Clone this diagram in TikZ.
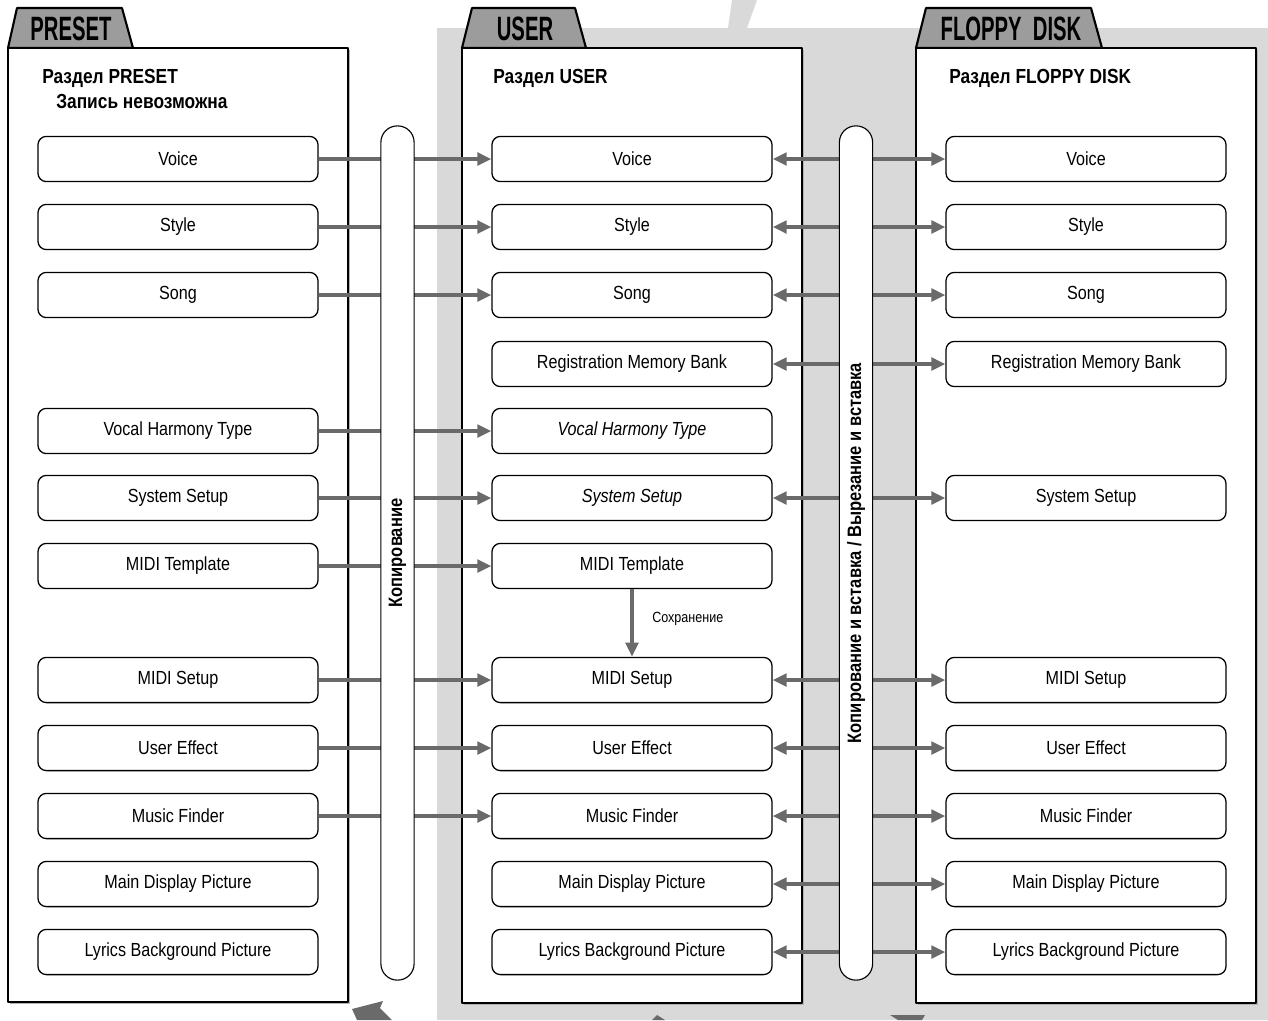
\documentclass[tikz,border=0pt]{standalone}
\usepackage{fontspec}
\setmainfont{Liberation Sans}[FakeStretch=0.85]
\newfontfamily\tabfont{Liberation Sans}[FakeStretch=0.6]
\usetikzlibrary{arrows.meta}

\definecolor{bglight}{HTML}{D9D9D9}
\definecolor{tabgray}{HTML}{9C9C9C}
\definecolor{arrgray}{HTML}{6A6A6A}

\tikzset{
	item/.style={draw, line width=0.9pt, rounded corners=6pt, fill=white, minimum width=7cm, minimum height=1.13cm, inner sep=0pt, font=\fontsize{13.5}{15}\selectfont},
	heading/.style={anchor=west, inner sep=0pt, font=\bfseries\fontsize{14.5}{16}\selectfont},
	tabtitle/.style={inner sep=0pt, font=\tabfont\bfseries\fontsize{24}{26}\selectfont},
	panel/.style={draw, line width=1.8pt, fill=white},
	tabshape/.style={draw, line width=1.5pt, fill=tabgray, line join=round},
	capsule/.style={draw, line width=0.8pt, fill=white, rotate=90, rounded corners=0.41cm, minimum width=21.35cm, minimum height=0.83cm, inner sep=0pt, font=\bfseries\fontsize{13.8}{15}\selectfont},
	onearrow/.style={draw=arrgray, line width=2.4pt, -{Triangle[length=10pt,width=9pt]}},
	twoarrow/.style={draw=arrgray, line width=2.4pt, {Triangle[length=10pt,width=9pt]}-{Triangle[length=10pt,width=9pt]}}
}

\begin{document}
\begin{tikzpicture}[x=0.025cm, y=-0.025cm, line join=round]
	\useasboundingbox (0,0) rectangle (1268,1020);
	
	% background
	\fill[bglight] (437,28) -- (728,28) -- (732,0) -- (757,0) -- (747,28) -- (1268,28) -- (1268,1020) -- (437,1020) -- cycle;
	\fill[arrgray] (352,1009) -- (383,1001) -- (380,1008) -- (392,1020) -- (357,1020) -- cycle;
	\fill[arrgray] (652,1020) -- (657,1015) -- (665,1020) -- cycle;
	\fill[arrgray] (890,1015) -- (925,1015) -- (922,1020) -- (898,1020) -- cycle;
	
	% panels
	\fill[gray!60] (10,50) rectangle (350,1004);
	\fill[gray!60] (464,50) rectangle (804,1005);
	\fill[gray!60] (918,50) rectangle (1258,1005);
	\draw[tabshape] (8,48) -- (17,8) -- (122,8) -- (133,48) -- cycle;
	\draw[tabshape] (462,48) -- (472,8) -- (575,8) -- (586,48) -- cycle;
	\draw[tabshape] (916,48) -- (926,8) -- (1091,8) -- (1102,48) -- cycle;
	\draw[panel] (8,48) rectangle (348,1002);
	\draw[panel] (462,48) rectangle (802,1003);
	\draw[panel] (916,48) rectangle (1256,1003);
	
	\node[tabtitle] (tP) at (71,29) {PRESET};
	\node[tabtitle] (tU) at (525,29) {USER};
	\node[tabtitle] (tF) at (1011,29) {FLOPPY\, DISK};
	
	\node[heading] (hP) at (42,78) {Раздел PRESET};
	\node[heading] (hP2) at (56,101) {Запись невозможна};
	\node[heading] (hU) at (493,78) {Раздел USER};
	\node[heading] (hF) at (949,78) {Раздел FLOPPY DISK};
	
	% PRESET column
	\node[item] (p1) at (178,159) {Voice};
	\node[item] (p2) at (178,227) {Style};
	\node[item] (p3) at (178,295) {Song};
	\node[item] (p5) at (178,431) {Vocal Harmony Type};
	\node[item] (p6) at (178,498) {System Setup};
	\node[item] (p7) at (178,566) {MIDI Template};
	\node[item] (p8) at (178,680) {MIDI Setup};
	\node[item] (p9) at (178,748) {User Effect};
	\node[item] (p10) at (178,816) {Music Finder};
	\node[item] (p11) at (178,884) {Main Display Picture};
	\node[item] (p12) at (178,952) {Lyrics Background Picture};
	
	% USER column
	\node[item] (u1) at (632,159) {Voice};
	\node[item] (u2) at (632,227) {Style};
	\node[item] (u3) at (632,295) {Song};
	\node[item] (u4) at (632,364) {Registration Memory Bank};
	\node[item] (u5) at (632,431) {\itshape Vocal Harmony Type};
	\node[item] (u6) at (632,498) {\itshape System Setup};
	\node[item] (u7) at (632,566) {MIDI Template};
	\node[item] (u8) at (632,680) {MIDI Setup};
	\node[item] (u9) at (632,748) {User Effect};
	\node[item] (u10) at (632,816) {Music Finder};
	\node[item] (u11) at (632,884) {Main Display Picture};
	\node[item] (u12) at (632,952) {Lyrics Background Picture};
	
	% FLOPPY DISK column
	\node[item] (f1) at (1086,159) {Voice};
	\node[item] (f2) at (1086,227) {Style};
	\node[item] (f3) at (1086,295) {Song};
	\node[item] (f4) at (1086,364) {Registration Memory Bank};
	\node[item] (f6) at (1086,498) {System Setup};
	\node[item] (f8) at (1086,680) {MIDI Setup};
	\node[item] (f9) at (1086,748) {User Effect};
	\node[item] (f10) at (1086,816) {Music Finder};
	\node[item] (f11) at (1086,884) {Main Display Picture};
	\node[item] (f12) at (1086,952) {Lyrics Background Picture};
	
	% copy arrows
	\draw[onearrow] (p1) -- (u1);
	\draw[onearrow] (p2) -- (u2);
	\draw[onearrow] (p3) -- (u3);
	\draw[onearrow] (p5) -- (u5);
	\draw[onearrow] (p6) -- (u6);
	\draw[onearrow] (p7) -- (u7);
	\draw[onearrow] (p8) -- (u8);
	\draw[onearrow] (p9) -- (u9);
	\draw[onearrow] (p10) -- (u10);
	
	\draw[twoarrow] (u1) -- (f1);
	\draw[twoarrow] (u2) -- (f2);
	\draw[twoarrow] (u3) -- (f3);
	\draw[twoarrow] (u4) -- (f4);
	\draw[twoarrow] (u6) -- (f6);
	\draw[twoarrow] (u8) -- (f8);
	\draw[twoarrow] (u9) -- (f9);
	\draw[twoarrow] (u10) -- (f10);
	\draw[twoarrow] (u11) -- (f11);
	\draw[twoarrow] (u12) -- (f12);
	
	\draw[onearrow] (u7) -- (u8);
	\node[anchor=west, inner sep=0pt, font=\fontsize{10.5}{12}\selectfont] (save) at (652,619) {Сохранение};
	
	% capsules
	\node[capsule] (cap1) at (397.5,553) {Копирование};
	\node[capsule] (cap2) at (856,553) {Копирование и вставка / Вырезание и вставка};
\end{tikzpicture}
\end{document}
